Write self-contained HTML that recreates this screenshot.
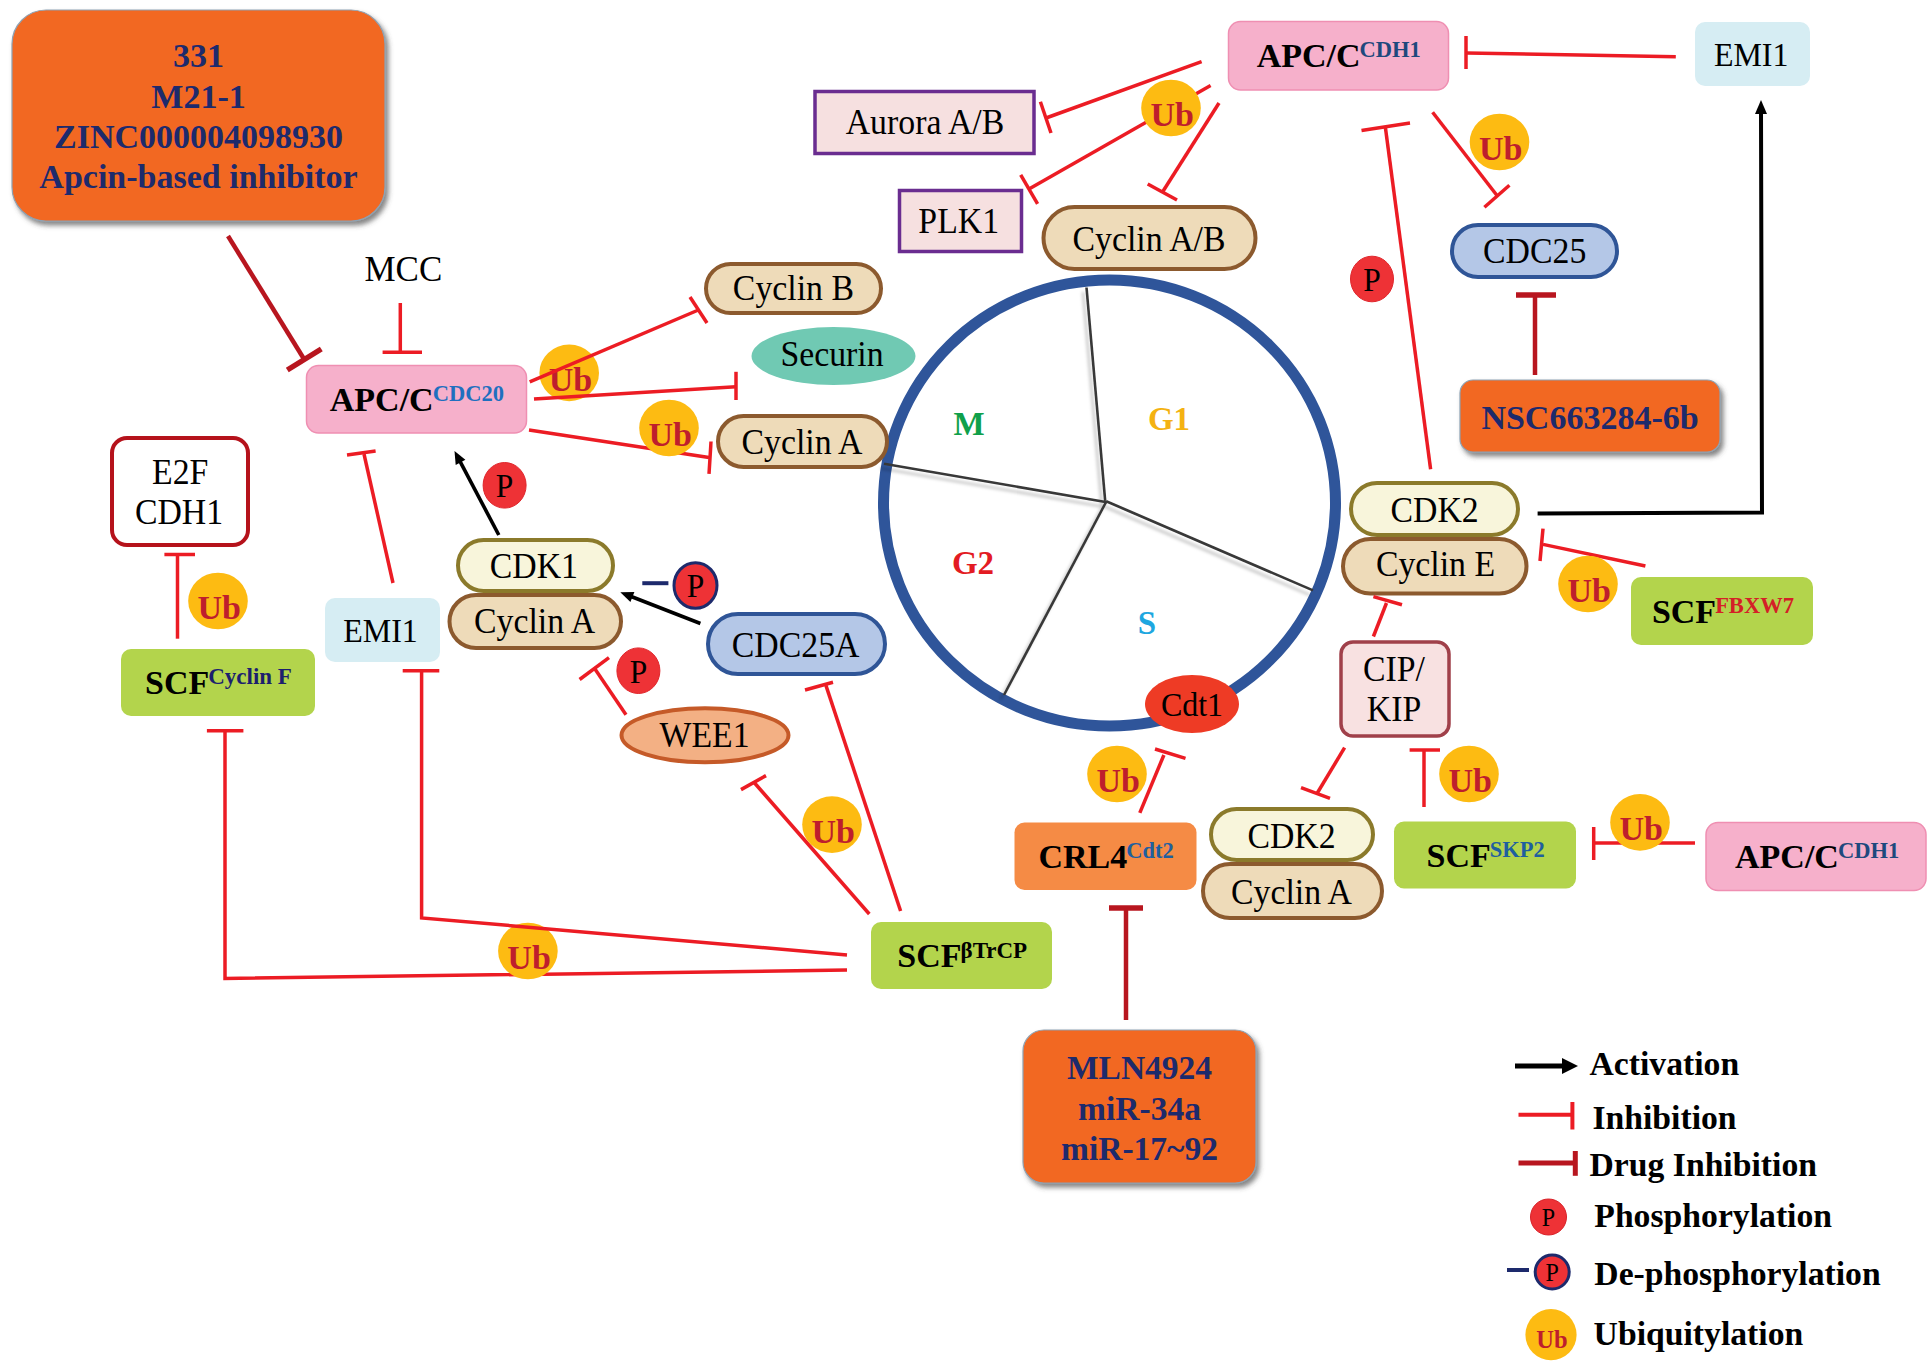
<!DOCTYPE html>
<html><head><meta charset="utf-8"><style>
html,body{margin:0;padding:0;background:#fff;}
svg{display:block;font-family:"Liberation Serif", serif;}
</style></head><body>
<svg width="1930" height="1362" viewBox="0 0 1930 1362">
<defs><filter id="sh" x="-10%" y="-10%" width="125%" height="130%"><feDropShadow dx="3" dy="4" stdDeviation="2.5" flood-color="#444" flood-opacity="0.65"/></filter><filter id="lsh" x="-20%" y="-20%" width="140%" height="140%"><feDropShadow dx="-3.5" dy="4.5" stdDeviation="1.8" flood-color="#000" flood-opacity="0.22"/></filter></defs>
<rect x="12" y="10" width="373" height="211" rx="34" fill="#f26722" stroke="#8ea2b3" stroke-width="1.2" filter="url(#sh)"/>
<text transform="translate(198.5,67) scale(1,1.0)" font-size="34" font-weight="bold" fill="#1d2a6c" text-anchor="middle" >331</text>
<text transform="translate(198.5,107.5) scale(1,1.0)" font-size="34" font-weight="bold" fill="#1d2a6c" text-anchor="middle" >M21-1</text>
<text transform="translate(198.5,148) scale(1,1.0)" font-size="34" font-weight="bold" fill="#1d2a6c" text-anchor="middle" >ZINC000004098930</text>
<text transform="translate(198.5,188) scale(1,1.0)" font-size="34" font-weight="bold" fill="#1d2a6c" text-anchor="middle" >Apcin-based inhibitor</text>
<rect x="1460" y="380" width="260" height="72" rx="13" fill="#f26722" stroke="#8ea2b3" stroke-width="1.2" filter="url(#sh)"/>
<text transform="translate(1590,428.5) scale(1,1.0)" font-size="34" font-weight="bold" fill="#1d2a6c" text-anchor="middle" >NSC663284-6b</text>
<rect x="1023" y="1030" width="233" height="153" rx="21" fill="#f26722" stroke="#8ea2b3" stroke-width="1.2" filter="url(#sh)"/>
<text transform="translate(1139.5,1078.5) scale(1,1.0)" font-size="33.5" font-weight="bold" fill="#1d2a6c" text-anchor="middle" >MLN4924</text>
<text transform="translate(1139.5,1119.5) scale(1,1.0)" font-size="33.5" font-weight="bold" fill="#1d2a6c" text-anchor="middle" >miR-34a</text>
<text transform="translate(1139.5,1159.5) scale(1,1.0)" font-size="33.5" font-weight="bold" fill="#1d2a6c" text-anchor="middle" >miR-17~92</text>
<line x1="228" y1="236" x2="304.3" y2="359.5" stroke="#b8161f" stroke-width="4.5" stroke-linecap="butt"/>
<line x1="287.3" y1="370.0" x2="321.3" y2="349.0" stroke="#b8161f" stroke-width="5.5"/>
<line x1="1535" y1="375" x2="1535" y2="295" stroke="#b8161f" stroke-width="4.5" stroke-linecap="butt"/>
<line x1="1516" y1="295" x2="1556" y2="295" stroke="#b8161f" stroke-width="5.5" stroke-linecap="butt"/>
<line x1="1126" y1="1020" x2="1126" y2="908" stroke="#b8161f" stroke-width="4.5" stroke-linecap="butt"/>
<line x1="1109" y1="908" x2="1143" y2="908" stroke="#b8161f" stroke-width="5.5" stroke-linecap="butt"/>
<ellipse cx="1109.5" cy="503" rx="226" ry="223" fill="none" stroke="#2f559a" stroke-width="11"/>
<g filter="url(#lsh)">
<line x1="1105.2" y1="500.8" x2="1086.5" y2="287.5" stroke="#383838" stroke-width="2.6" stroke-linecap="butt"/>
<line x1="1107" y1="502.3" x2="884" y2="463.7" stroke="#383838" stroke-width="2.6" stroke-linecap="butt"/>
<line x1="1105.8" y1="502.5" x2="1004" y2="695" stroke="#383838" stroke-width="2.6" stroke-linecap="butt"/>
<line x1="1106.2" y1="501.2" x2="1313" y2="590.4" stroke="#383838" stroke-width="2.6" stroke-linecap="butt"/>
</g>
<text transform="translate(969,435) scale(1,1.0)" font-size="33" font-weight="bold" fill="#10a04a" text-anchor="middle" >M</text>
<text transform="translate(1169,429.6) scale(1,1.0)" font-size="33" font-weight="bold" fill="#f4b212" text-anchor="middle" >G1</text>
<text transform="translate(973,574) scale(1,1.0)" font-size="33" font-weight="bold" fill="#e31b23" text-anchor="middle" >G2</text>
<text transform="translate(1147,633.7) scale(1,1.0)" font-size="33" font-weight="bold" fill="#1ea7e0" text-anchor="middle" >S</text>
<text transform="translate(403.4,280.8) scale(1,1.045)" font-size="35" font-weight="normal" fill="#000" text-anchor="middle" >MCC</text>
<line x1="400.3" y1="303" x2="400.3" y2="352" stroke="#ec1c24" stroke-width="3.5" stroke-linecap="butt"/>
<line x1="382.6" y1="352.3" x2="422" y2="352.3" stroke="#ec1c24" stroke-width="3.5" stroke-linecap="butt"/>
<rect x="306.5" y="365.5" width="220" height="67.5" rx="12" fill="#f6b0cb" stroke="#ef8fb2" stroke-width="1.5"/>
<text x="329.8" y="410.7" font-size="34" font-weight="bold" fill="#000" text-anchor="start">APC/C<tspan dx="-1" dy="-10" font-size="22.5" fill="#1f6fbf">CDC20</tspan></text>
<ellipse cx="569.2" cy="372.9" rx="29.8" ry="28.3" fill="#fdbb12"/>
<text transform="translate(570.4000000000001,390.9) scale(1,1.0)" font-size="34" font-weight="bold" fill="#be1e2d" text-anchor="middle" >Ub</text>
<line x1="529.7" y1="381.8" x2="698.4" y2="310" stroke="#ec1c24" stroke-width="3.5" stroke-linecap="butt"/>
<line x1="690" y1="297" x2="707" y2="323" stroke="#ec1c24" stroke-width="3.5" stroke-linecap="butt"/>
<line x1="534" y1="399" x2="736" y2="386.8" stroke="#ec1c24" stroke-width="3.5" stroke-linecap="butt"/>
<line x1="736" y1="371.8" x2="736" y2="400" stroke="#ec1c24" stroke-width="3.5" stroke-linecap="butt"/>
<line x1="529" y1="430" x2="709" y2="457.6" stroke="#ec1c24" stroke-width="3.5" stroke-linecap="butt"/>
<line x1="711" y1="441.5" x2="709" y2="473.8" stroke="#ec1c24" stroke-width="3.5" stroke-linecap="butt"/>
<ellipse cx="669" cy="428" rx="29.8" ry="28.3" fill="#fdbb12"/>
<text transform="translate(670.2,446) scale(1,1.0)" font-size="34" font-weight="bold" fill="#be1e2d" text-anchor="middle" >Ub</text>
<rect x="706.0" y="264.0" width="175" height="49" rx="24.5" fill="#eedbb9" stroke="#8c5a2e" stroke-width="4"/>
<text transform="translate(793.4,300.4) scale(1,1.045)" font-size="33.8" font-weight="normal" fill="#000" text-anchor="middle" >Cyclin B</text>
<ellipse cx="833.5" cy="356" rx="82" ry="29" fill="#70c9b3"/>
<text transform="translate(832,366) scale(1,1.045)" font-size="33.8" font-weight="normal" fill="#000" text-anchor="middle" >Securin</text>
<rect x="718.0" y="416.0" width="169" height="51" rx="25.5" fill="#eedbb9" stroke="#8c5a2e" stroke-width="4"/>
<text transform="translate(802,454) scale(1,1.045)" font-size="33.8" font-weight="normal" fill="#000" text-anchor="middle" >Cyclin A</text>
<rect x="815" y="91.5" width="219" height="62" rx="0" fill="#f6e0e0" stroke="#6a2d90" stroke-width="3.5"/>
<text transform="translate(925,134.2) scale(1,1.045)" font-size="33.8" font-weight="normal" fill="#000" text-anchor="middle" >Aurora A/B</text>
<rect x="899.5" y="190.5" width="122" height="61" rx="0" fill="#f6e0e0" stroke="#6a2d90" stroke-width="3.5"/>
<text transform="translate(958.7,233) scale(1,1.045)" font-size="33.8" font-weight="normal" fill="#000" text-anchor="middle" >PLK1</text>
<rect x="1043.5" y="207.0" width="212" height="62" rx="31.0" fill="#eedbb9" stroke="#8c5a2e" stroke-width="4"/>
<text transform="translate(1149,250.8) scale(1,1.045)" font-size="33.8" font-weight="normal" fill="#000" text-anchor="middle" >Cyclin A/B</text>
<line x1="1201.6" y1="61.7" x2="1046" y2="118" stroke="#ec1c24" stroke-width="3.5" stroke-linecap="butt"/>
<line x1="1040.4" y1="101.8" x2="1051" y2="133" stroke="#ec1c24" stroke-width="3.5" stroke-linecap="butt"/>
<line x1="1210.6" y1="85.5" x2="1029" y2="189" stroke="#ec1c24" stroke-width="3.5" stroke-linecap="butt"/>
<line x1="1020.7" y1="174.9" x2="1037.6" y2="203.9" stroke="#ec1c24" stroke-width="3.5" stroke-linecap="butt"/>
<line x1="1219" y1="103" x2="1162.7" y2="191.7" stroke="#ec1c24" stroke-width="3.5" stroke-linecap="butt"/>
<line x1="1147.7" y1="184" x2="1177" y2="200" stroke="#ec1c24" stroke-width="3.5" stroke-linecap="butt"/>
<ellipse cx="1171" cy="108" rx="29.8" ry="28.3" fill="#fdbb12"/>
<text transform="translate(1172.2,126) scale(1,1.0)" font-size="34" font-weight="bold" fill="#be1e2d" text-anchor="middle" >Ub</text>
<rect x="1228.5" y="21.5" width="220" height="68.5" rx="12" fill="#f6b0cb" stroke="#ef8fb2" stroke-width="1.5"/>
<text x="1256.7" y="67.3" font-size="34" font-weight="bold" fill="#000" text-anchor="start">APC/C<tspan dx="-1" dy="-10" font-size="22.5" fill="#1f497d">CDH1</tspan></text>
<rect x="1695" y="22" width="115" height="64" rx="10" fill="#d6edf3" stroke="none" stroke-width="0"/>
<text transform="translate(1751.2,66.2) scale(1,1.045)" font-size="32" font-weight="normal" fill="#000" text-anchor="middle" >EMI1</text>
<line x1="1675.8" y1="56.7" x2="1466.6" y2="53" stroke="#ec1c24" stroke-width="3.5" stroke-linecap="butt"/>
<line x1="1466" y1="36" x2="1466" y2="69" stroke="#ec1c24" stroke-width="3.5" stroke-linecap="butt"/>
<line x1="1432.6" y1="112.3" x2="1497" y2="195.5" stroke="#ec1c24" stroke-width="3.5" stroke-linecap="butt"/>
<line x1="1484.4" y1="207.3" x2="1509.4" y2="185.3" stroke="#ec1c24" stroke-width="3.5" stroke-linecap="butt"/>
<ellipse cx="1499.5" cy="142" rx="29.8" ry="28.3" fill="#fdbb12"/>
<text transform="translate(1500.7,160) scale(1,1.0)" font-size="34" font-weight="bold" fill="#be1e2d" text-anchor="middle" >Ub</text>
<rect x="1452.0" y="225.0" width="165" height="52" rx="26.0" fill="#b4c7e7" stroke="#2f5597" stroke-width="4"/>
<text transform="translate(1534.7,262.9) scale(1,1.045)" font-size="33.8" font-weight="normal" fill="#000" text-anchor="middle" >CDC25</text>
<line x1="1430.6" y1="469.3" x2="1385.3" y2="126.7" stroke="#ec1c24" stroke-width="3.5" stroke-linecap="butt"/>
<line x1="1361.5" y1="130.5" x2="1410" y2="123" stroke="#ec1c24" stroke-width="3.5" stroke-linecap="butt"/>
<ellipse cx="1372" cy="279" rx="21.5" ry="22.8" fill="#ee3236" stroke="#e0262c" stroke-width="1"/>
<text transform="translate(1372,290.825) scale(1,1.045)" font-size="31.5" font-weight="normal" fill="#000" text-anchor="middle" >P</text>
<polyline points="1537.6,513.4 1762,512.4 1761,110" fill="none" stroke="#000" stroke-width="4" stroke-linejoin="miter"/>
<polygon points="1761,100 1755,114 1767,114" fill="#000"/>
<rect x="1351.0" y="483.0" width="167" height="52" rx="26.0" fill="#f8f5db" stroke="#8b7a2b" stroke-width="4"/>
<text transform="translate(1434.6,521.5) scale(1,1.045)" font-size="33.8" font-weight="normal" fill="#000" text-anchor="middle" >CDK2</text>
<rect x="1343.0" y="539.0" width="183.5" height="54.5" rx="27.25" fill="#eedbb9" stroke="#8c5a2e" stroke-width="4"/>
<text transform="translate(1435.5,576.4) scale(1,1.045)" font-size="33.8" font-weight="normal" fill="#000" text-anchor="middle" >Cyclin E</text>
<line x1="1645.4" y1="566" x2="1543" y2="544.4" stroke="#ec1c24" stroke-width="3.5" stroke-linecap="butt"/>
<line x1="1543" y1="528.7" x2="1540" y2="561" stroke="#ec1c24" stroke-width="3.5" stroke-linecap="butt"/>
<ellipse cx="1588" cy="584" rx="29.8" ry="28.3" fill="#fdbb12"/>
<text transform="translate(1589.2,602) scale(1,1.0)" font-size="34" font-weight="bold" fill="#be1e2d" text-anchor="middle" >Ub</text>
<rect x="1631" y="577" width="182" height="68" rx="10" fill="#b3d44c" stroke="none" stroke-width="0"/>
<text x="1651.9" y="622.7" font-size="34" font-weight="bold" fill="#000" text-anchor="start">SCF<tspan dx="-1" dy="-10" font-size="22.5" fill="#d42027">FBXW7</tspan></text>
<line x1="1373.4" y1="636.5" x2="1386.5" y2="603" stroke="#ec1c24" stroke-width="3.5" stroke-linecap="butt"/>
<line x1="1373.4" y1="596.6" x2="1402" y2="604.8" stroke="#ec1c24" stroke-width="3.5" stroke-linecap="butt"/>
<rect x="1341" y="642" width="108" height="94" rx="12" fill="#f8e1e1" stroke="#a0404a" stroke-width="3.5"/>
<text transform="translate(1394,681) scale(1,1.045)" font-size="33.8" font-weight="normal" fill="#000" text-anchor="middle" >CIP/</text>
<text transform="translate(1394,721) scale(1,1.045)" font-size="33.8" font-weight="normal" fill="#000" text-anchor="middle" >KIP</text>
<ellipse cx="1192" cy="704" rx="47" ry="29" fill="#ee3b25"/>
<text transform="translate(1192,716) scale(1,1.045)" font-size="32" font-weight="normal" fill="#000" text-anchor="middle" >Cdt1</text>
<line x1="1139.8" y1="812.8" x2="1163.9" y2="755" stroke="#ec1c24" stroke-width="3.5" stroke-linecap="butt"/>
<line x1="1155" y1="749" x2="1185.5" y2="758.3" stroke="#ec1c24" stroke-width="3.5" stroke-linecap="butt"/>
<ellipse cx="1117" cy="774" rx="29.8" ry="28.3" fill="#fdbb12"/>
<text transform="translate(1118.2,792) scale(1,1.0)" font-size="34" font-weight="bold" fill="#be1e2d" text-anchor="middle" >Ub</text>
<rect x="1014.5" y="822.5" width="182" height="67.5" rx="10" fill="#f58b45" stroke="none" stroke-width="0"/>
<text x="1038.5" y="868" font-size="34" font-weight="bold" fill="#000" text-anchor="start">CRL4<tspan dx="-1" dy="-10" font-size="22.5" fill="#1f5f9f">Cdt2</tspan></text>
<rect x="1211.0" y="809.0" width="162" height="51" rx="25.5" fill="#f8f5db" stroke="#8b7a2b" stroke-width="4"/>
<text transform="translate(1291.5,847.5) scale(1,1.045)" font-size="33.8" font-weight="normal" fill="#000" text-anchor="middle" >CDK2</text>
<rect x="1203.0" y="864.0" width="179" height="54" rx="27.0" fill="#eedbb9" stroke="#8c5a2e" stroke-width="4"/>
<text transform="translate(1291.5,904) scale(1,1.045)" font-size="33.8" font-weight="normal" fill="#000" text-anchor="middle" >Cyclin A</text>
<line x1="1344.6" y1="747.7" x2="1317" y2="793.5" stroke="#ec1c24" stroke-width="3.5" stroke-linecap="butt"/>
<line x1="1301" y1="787.7" x2="1330" y2="798.3" stroke="#ec1c24" stroke-width="3.5" stroke-linecap="butt"/>
<line x1="1424" y1="807" x2="1424" y2="750" stroke="#ec1c24" stroke-width="3.5" stroke-linecap="butt"/>
<line x1="1409.6" y1="750" x2="1440" y2="750" stroke="#ec1c24" stroke-width="3.5" stroke-linecap="butt"/>
<ellipse cx="1469" cy="774" rx="29.8" ry="28.3" fill="#fdbb12"/>
<text transform="translate(1470.2,792) scale(1,1.0)" font-size="34" font-weight="bold" fill="#be1e2d" text-anchor="middle" >Ub</text>
<rect x="1394" y="821.5" width="182" height="67" rx="10" fill="#b3d44c" stroke="none" stroke-width="0"/>
<text x="1426.5" y="866.7" font-size="34" font-weight="bold" fill="#000" text-anchor="start">SCF<tspan dx="-1" dy="-10" font-size="22.5" fill="#1f5f9f">SKP2</tspan></text>
<line x1="1695" y1="843" x2="1593.7" y2="843" stroke="#ec1c24" stroke-width="3.5" stroke-linecap="butt"/>
<line x1="1593.7" y1="827" x2="1593.7" y2="860" stroke="#ec1c24" stroke-width="3.5" stroke-linecap="butt"/>
<ellipse cx="1640" cy="822.4" rx="29.8" ry="28.3" fill="#fdbb12"/>
<text transform="translate(1641.2,840.4) scale(1,1.0)" font-size="34" font-weight="bold" fill="#be1e2d" text-anchor="middle" >Ub</text>
<rect x="1706" y="822.5" width="220" height="68" rx="12" fill="#f6b0cb" stroke="#ef8fb2" stroke-width="1.5"/>
<text x="1735" y="868" font-size="34" font-weight="bold" fill="#000" text-anchor="start">APC/C<tspan dx="-1" dy="-10" font-size="22.5" fill="#1f497d">CDH1</tspan></text>
<rect x="112" y="438" width="136" height="107" rx="15" fill="#fff" stroke="#b5121b" stroke-width="4"/>
<text transform="translate(180.2,483.6) scale(1,1.045)" font-size="33.8" font-weight="normal" fill="#000" text-anchor="middle" >E2F</text>
<text transform="translate(179,523.8) scale(1,1.045)" font-size="33.8" font-weight="normal" fill="#000" text-anchor="middle" >CDH1</text>
<line x1="177.5" y1="638.7" x2="177.5" y2="554.5" stroke="#ec1c24" stroke-width="3.5" stroke-linecap="butt"/>
<line x1="164.4" y1="554.5" x2="195" y2="554.5" stroke="#ec1c24" stroke-width="3.5" stroke-linecap="butt"/>
<ellipse cx="218" cy="601" rx="29.8" ry="28.3" fill="#fdbb12"/>
<text transform="translate(219.2,619) scale(1,1.0)" font-size="34" font-weight="bold" fill="#be1e2d" text-anchor="middle" >Ub</text>
<rect x="121" y="649" width="194" height="67" rx="10" fill="#b3d44c" stroke="none" stroke-width="0"/>
<text x="145" y="694.2" font-size="34" font-weight="bold" fill="#000" text-anchor="start">SCF<tspan dx="-1" dy="-10" font-size="23" fill="#1c1f6e">Cyclin F</tspan></text>
<rect x="325" y="598" width="115" height="64" rx="10" fill="#d6edf3" stroke="none" stroke-width="0"/>
<text transform="translate(380.5,642) scale(1,1.045)" font-size="32" font-weight="normal" fill="#000" text-anchor="middle" >EMI1</text>
<line x1="393" y1="583" x2="364" y2="454" stroke="#ec1c24" stroke-width="3.5" stroke-linecap="butt"/>
<line x1="347" y1="455" x2="375.6" y2="451" stroke="#ec1c24" stroke-width="3.5" stroke-linecap="butt"/>
<line x1="498.8" y1="535" x2="459.6265491191849" y2="460.63234268450225" stroke="#000" stroke-width="3.6" stroke-linecap="butt"/>
<polygon points="454.5,450.9 465.4,459.8 455.7,465.0" fill="#000"/>
<ellipse cx="504.6" cy="485.3" rx="21.5" ry="22.8" fill="#ee3236" stroke="#e0262c" stroke-width="1"/>
<text transform="translate(504.6,497.125) scale(1,1.045)" font-size="31.5" font-weight="normal" fill="#000" text-anchor="middle" >P</text>
<rect x="458.0" y="540.0" width="155" height="51" rx="25.5" fill="#f8f5db" stroke="#8b7a2b" stroke-width="4"/>
<text transform="translate(533.9,578.3) scale(1,1.045)" font-size="33.8" font-weight="normal" fill="#000" text-anchor="middle" >CDK1</text>
<rect x="449.5" y="595.0" width="171.5" height="53" rx="26.5" fill="#eedbb9" stroke="#8c5a2e" stroke-width="4"/>
<text transform="translate(534.6,632.8) scale(1,1.045)" font-size="33.8" font-weight="normal" fill="#000" text-anchor="middle" >Cyclin A</text>
<line x1="700.4" y1="623.5" x2="630.5498885641558" y2="596.2924659575738" stroke="#000" stroke-width="3.6" stroke-linecap="butt"/>
<polygon points="620.3,592.3 634.4,591.9 630.4,602.1" fill="#000"/>
<line x1="642.3" y1="583.2" x2="668.4" y2="583.2" stroke="#1d2a6c" stroke-width="4" stroke-linecap="butt"/>
<ellipse cx="695.5" cy="585.5" rx="21.5" ry="22.8" fill="#ee3236" stroke="#1d2a6c" stroke-width="3"/>
<text transform="translate(695.5,597.325) scale(1,1.045)" font-size="31.5" font-weight="normal" fill="#000" text-anchor="middle" >P</text>
<rect x="708.0" y="614.0" width="177" height="60" rx="30.0" fill="#b4c7e7" stroke="#2f5597" stroke-width="4"/>
<text transform="translate(795.6,656.7) scale(1,1.045)" font-size="33.8" font-weight="normal" fill="#000" text-anchor="middle" >CDC25A</text>
<line x1="626" y1="714.8" x2="594.3" y2="668" stroke="#ec1c24" stroke-width="3.5" stroke-linecap="butt"/>
<line x1="579.6" y1="679.5" x2="609" y2="657.6" stroke="#ec1c24" stroke-width="3.5" stroke-linecap="butt"/>
<ellipse cx="638.4" cy="670.7" rx="21.5" ry="22.8" fill="#ee3236" stroke="#e0262c" stroke-width="1"/>
<text transform="translate(638.4,682.5250000000001) scale(1,1.045)" font-size="31.5" font-weight="normal" fill="#000" text-anchor="middle" >P</text>
<ellipse cx="705" cy="735.2" rx="83.5" ry="27" fill="#f3b084" stroke="#c55a28" stroke-width="4"/>
<text transform="translate(704.6,747) scale(1,1.045)" font-size="33.8" font-weight="normal" fill="#000" text-anchor="middle" >WEE1</text>
<line x1="869.3" y1="914" x2="753.7" y2="782" stroke="#ec1c24" stroke-width="3.5" stroke-linecap="butt"/>
<line x1="741" y1="789.6" x2="766" y2="775.6" stroke="#ec1c24" stroke-width="3.5" stroke-linecap="butt"/>
<ellipse cx="832" cy="824.6" rx="29.8" ry="28.3" fill="#fdbb12"/>
<text transform="translate(833.2,842.6) scale(1,1.0)" font-size="34" font-weight="bold" fill="#be1e2d" text-anchor="middle" >Ub</text>
<line x1="900.6" y1="911" x2="826" y2="685.6" stroke="#ec1c24" stroke-width="3.5" stroke-linecap="butt"/>
<line x1="805" y1="690" x2="833" y2="682.3" stroke="#ec1c24" stroke-width="3.5" stroke-linecap="butt"/>
<polyline points="847,970 225,978.5 225,730.8" fill="none" stroke="#ec1c24" stroke-width="3.5" stroke-linejoin="miter"/>
<line x1="206.9" y1="730.7" x2="243.4" y2="730.7" stroke="#ec1c24" stroke-width="3.5" stroke-linecap="butt"/>
<ellipse cx="527.9" cy="951" rx="29.8" ry="28.3" fill="#fdbb12"/>
<text transform="translate(529.1,969) scale(1,1.0)" font-size="34" font-weight="bold" fill="#be1e2d" text-anchor="middle" >Ub</text>
<polyline points="847,955 421.6,917.9 421.6,670" fill="none" stroke="#ec1c24" stroke-width="3.5" stroke-linejoin="miter"/>
<line x1="402.7" y1="670.7" x2="439.3" y2="670.7" stroke="#ec1c24" stroke-width="3.5" stroke-linecap="butt"/>
<rect x="871" y="922" width="181" height="67" rx="10" fill="#b3d44c" stroke="none" stroke-width="0"/>
<text x="897.3" y="966.9" font-size="34" font-weight="bold" fill="#000" text-anchor="start">SCF<tspan dx="-1" dy="-9" font-size="23" fill="#000">βTrCP</tspan></text>
<line x1="1515" y1="1066" x2="1565" y2="1066" stroke="#000" stroke-width="5" stroke-linecap="butt"/>
<polygon points="1578,1066 1562,1058 1562,1074" fill="#000"/>
<text transform="translate(1589.5,1074.6) scale(1,1.0)" font-size="33.7" font-weight="bold" fill="#000" text-anchor="start" >Activation</text>
<line x1="1518.5" y1="1114.8" x2="1574" y2="1114.8" stroke="#ec1c24" stroke-width="4" stroke-linecap="butt"/>
<line x1="1572.4" y1="1102" x2="1572.4" y2="1129.5" stroke="#ec1c24" stroke-width="4" stroke-linecap="butt"/>
<text transform="translate(1592.4,1128.7) scale(1,1.0)" font-size="33.7" font-weight="bold" fill="#000" text-anchor="start" >Inhibition</text>
<line x1="1518.5" y1="1162.9" x2="1577" y2="1162.9" stroke="#b8161f" stroke-width="5" stroke-linecap="butt"/>
<line x1="1575.3" y1="1151" x2="1575.3" y2="1175.8" stroke="#b8161f" stroke-width="5" stroke-linecap="butt"/>
<text transform="translate(1589.5,1175.5) scale(1,1.0)" font-size="33.7" font-weight="bold" fill="#000" text-anchor="start" >Drug Inhibition</text>
<circle cx="1548.5" cy="1217" r="18" fill="#ee3236" stroke="#d9232a" stroke-width="1"/>
<text transform="translate(1548.5,1226) scale(1,1.045)" font-size="24" font-weight="normal" fill="#000" text-anchor="middle" >P</text>
<line x1="1507" y1="1270" x2="1529" y2="1270" stroke="#1d2a6c" stroke-width="4" stroke-linecap="butt"/>
<circle cx="1552.2" cy="1272" r="17" fill="#ee3236" stroke="#1d2a6c" stroke-width="3"/>
<text transform="translate(1552.2,1281) scale(1,1.045)" font-size="24" font-weight="normal" fill="#000" text-anchor="middle" >P</text>
<text transform="translate(1594.3,1227) scale(1,1.0)" font-size="33.7" font-weight="bold" fill="#000" text-anchor="start" >Phosphorylation</text>
<text transform="translate(1594.3,1284.7) scale(1,1.0)" font-size="33.7" font-weight="bold" fill="#000" text-anchor="start" >De-phosphorylation</text>
<circle cx="1551" cy="1334.7" r="25.6" fill="#fdbb12"/>
<text transform="translate(1552,1348) scale(1,1.0)" font-size="24.5" font-weight="bold" fill="#be1e2d" text-anchor="middle" >Ub</text>
<text transform="translate(1593.6,1344.5) scale(1,1.0)" font-size="33.7" font-weight="bold" fill="#000" text-anchor="start" >Ubiquitylation</text>
</svg></body></html>
